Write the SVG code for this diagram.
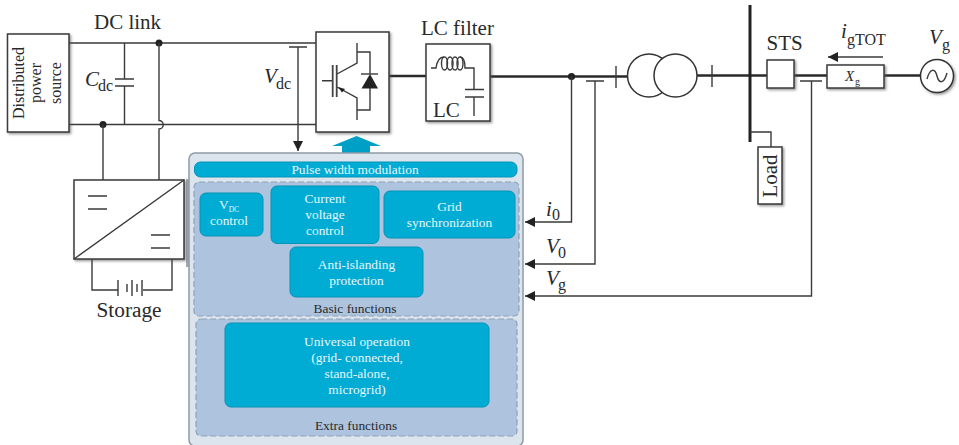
<svg xmlns="http://www.w3.org/2000/svg" width="959" height="445" viewBox="0 0 959 445">
<style>
text{font-family:"Liberation Serif","Times New Roman",serif;fill:#2a2a2a}
.w{stroke:#3a3a3a;stroke-width:1.4;fill:none}
.t{stroke:#2a2a2a;stroke-width:2.4;fill:none}
.box{fill:#fff;stroke:#3a3a3a;stroke-width:1.5;filter:url(#sh)}
.dash{fill:#aec3dd;stroke:#8ea3b8;stroke-width:1.2;stroke-dasharray:6 3}
.cy{fill:#00acd4;stroke:#0494b5;stroke-width:1}
.ct{fill:#e6f6fa;font-size:13.4px;text-anchor:middle}
.lab{font-size:21px}
.sub{font-size:16px}
.it{font-style:italic}
.d{fill:#222;stroke:none}
</style>
<defs>
<filter id="sh" x="-10%" y="-10%" width="125%" height="125%"><feDropShadow dx="1.5" dy="1.5" stdDeviation="1" flood-color="#555" flood-opacity=".6"/></filter>
<marker id="ah" markerUnits="userSpaceOnUse" markerWidth="11" markerHeight="10" refX="10" refY="5" orient="auto"><path d="M0 0L10 5L0 10Z" fill="#222"/></marker>
</defs>

<g id="connectors">
<path class="w" d="M69 43H316M69 124.500H316"/>
<circle class="d" cx="159" cy="43" r="3.500"/>
<circle class="d" cx="103" cy="124.500" r="3.500"/>
<path class="w" d="M124.500 43V79M124.500 86V124.500M115 79H134M115 86H134"/>
<path class="w" d="M159 43V120.500A4 4 0 0 1 159 129V180M103 124.500V180"/>
<path class="w" d="M289 47H307M298 47V151" marker-end="url(#ah)"/>
<path class="t" d="M389 76H426M490 76.500H629M696 75.500H767M794 75.500H827M884 75.500H921"/>
<path class="w" d="M616 66V88M712 65V87"/>
<circle class="d" cx="571.500" cy="76.500" r="3.600"/>
<path class="w" d="M571.500 76.500V222H525" marker-end="url(#ah)"/>
<path class="w" d="M586 81H604M595 81V264H525" marker-end="url(#ah)"/>
<path class="w" d="M800 81H822M811.500 81V296H525" marker-end="url(#ah)"/>
<path d="M750 5V142" stroke="#222" stroke-width="3" fill="none"/>
<path class="w" d="M750 132H771V147"/>
<path class="w" d="M92 259V290H118M172 259V290H143"/>
<path class="w" d="M883 57H828" marker-end="url(#ah)"/>
</g>

<g id="source"><rect class="box" x="7.500" y="34" width="61.500" height="98"/>
<text font-size="16" text-anchor="middle" transform="translate(24 83) rotate(-90)">Distributed</text>
<text font-size="16" text-anchor="middle" transform="translate(41 83) rotate(-90)">power</text>
<text font-size="16" text-anchor="middle" transform="translate(61 83) rotate(-90)">source</text></g>

<g id="dc-labels"><text class="lab" x="94" y="29">DC link</text>
<text class="lab it" x="85" y="86">C</text><text class="sub" x="98" y="91">dc</text>
<text class="lab it" x="264" y="83">V</text><text class="sub" x="276" y="89">dc</text></g>

<g id="converter"><rect x="186" y="179" width="3" height="88" fill="#a3a8ad"/><rect class="box" x="74" y="180" width="110" height="79"/>
<path class="w" d="M74 259L184 180M88 196H107M88 209H107M151 235H170M151 248H170"/></g>

<g id="storage"><path class="w" d="M118 280V296M127 284V292M132 280V296M137 284V292M142 280V296"/>
<text x="96.500" y="317" font-size="21.300">Storage</text></g>

<g id="inverter"><rect class="box" x="316" y="32" width="73" height="100"/>
<path class="w" d="M322 80.700H332M357 43V63L337 74M357 52H370V74M357 120V98L337 87M357 110H370V88"/>
<path d="M332.700 65V97M336.700 65V97" stroke="#444" stroke-width="1.800" fill="none"/>
<path class="w" d="M361 74H378"/>
<path class="d" d="M361.500 88.500H378L370 74Z"/>
<path class="d" d="M338 87L345 89L342 92.500Z"/></g>

<g id="lc-filter"><rect class="box" x="426" y="44" width="64" height="77"/>
<path class="w" d="M431 68H436C437 61 440 57 444 57M460 57C464 57 465 62 465 68H474V89.500M465 89.500H484M465 97H484M474 97V116"/>
<g class="w"><ellipse cx="444.500" cy="63.500" rx="3" ry="6.500"/><ellipse cx="450" cy="63.500" rx="3" ry="6.500"/><ellipse cx="455" cy="63.500" rx="3" ry="6.500"/><ellipse cx="460" cy="63.500" rx="3" ry="6.500"/></g>
<text x="433" y="116.500" font-size="21">LC</text>
<text class="lab" x="421" y="35">LC filter</text></g>

<g id="transformer"><circle cx="649" cy="75.500" r="21.500" fill="#fff" stroke="#333" stroke-width="1.500"/>
<circle cx="675.500" cy="75.500" r="21.500" fill="#fff" stroke="#333" stroke-width="1.500"/></g>

<g id="sts"><rect class="box" x="767" y="60" width="27" height="28"/><text class="lab" x="766.500" y="50">STS</text></g>

<g id="load"><rect class="box" x="758" y="147" width="24" height="57"/>
<text font-size="21" text-anchor="middle" transform="translate(777 176) rotate(-90)">Load</text></g>

<g id="xg"><rect class="box" x="827" y="65" width="57" height="23"/>
<text class="it" x="845" y="81" font-size="15">X</text><text x="855" y="85" font-size="10">g</text></g>

<g id="grid"><circle cx="937" cy="76" r="16.500" fill="#fff" stroke="#333" stroke-width="1.500" filter="url(#sh)"/>
<path class="w" d="M927 79C930 68 935 68 937 76C939 84 944 84 947 73"/>
<text class="lab it" x="929" y="44">V</text><text class="sub" x="942" y="50">g</text></g>

<g id="igtot"><text class="lab it" x="841" y="38">i</text><text class="sub" x="847" y="45">gTOT</text></g>

<g id="signals"><text class="lab it" x="546" y="216">i</text><text class="sub" x="552" y="220">0</text>
<text class="lab it" x="546" y="253">V</text><text class="sub" x="558" y="258">0</text>
<text class="lab it" x="546" y="285">V</text><text class="sub" x="558" y="290">g</text></g>

<g id="pwm-arrow"><path d="M356.500 136L381 146H370V153H342V146H332Z" fill="#00a0c6"/></g>

<g id="controller"><rect x="189" y="153" width="334" height="293" rx="6" fill="#dce4ee" stroke="#8f9aa5" stroke-width="1.500"/></g>

<g id="pwm"><rect class="cy" x="194.500" y="162" width="322.500" height="15" rx="6"/><text class="ct" x="355" y="174">Pulse width modulation</text></g>

<g id="basic"><rect class="dash" x="194" y="182" width="325" height="134" rx="5"/>
<text x="355" y="313" font-size="13.400" text-anchor="middle">Basic functions</text></g>
<g id="vdc"><rect class="cy" x="200" y="193" width="63" height="43" rx="6"/>
<text class="ct" x="229" y="209">V<tspan font-size="7.500" dy="3">DC</tspan></text><text class="ct" x="229" y="225">control</text></g>
<g id="current"><rect class="cy" x="271" y="186" width="108" height="57.500" rx="6"/>
<text class="ct" x="325" y="203">Current</text><text class="ct" x="325" y="219">voltage</text><text class="ct" x="325" y="235">control</text></g>
<g id="sync"><rect class="cy" x="384" y="191" width="131" height="47" rx="6"/>
<text class="ct" x="449.500" y="211">Grid</text><text class="ct" x="449.500" y="227">synchronization</text></g>
<g id="anti"><rect class="cy" x="290" y="247" width="133" height="50" rx="6"/>
<text class="ct" x="356.500" y="269">Anti-islanding</text><text class="ct" x="356.500" y="285">protection</text></g>

<g id="extra"><rect class="dash" x="196" y="319" width="321" height="117" rx="5"/>
<text x="356" y="430" font-size="13.400" text-anchor="middle">Extra functions</text></g>
<g id="universal"><rect class="cy" x="225" y="323" width="264" height="84" rx="6"/>
<text class="ct" x="357" y="346">Universal operation</text><text class="ct" x="357" y="362">(grid- connected,</text><text class="ct" x="357" y="378">stand-alone,</text><text class="ct" x="357" y="394">microgrid)</text></g>
</svg>
